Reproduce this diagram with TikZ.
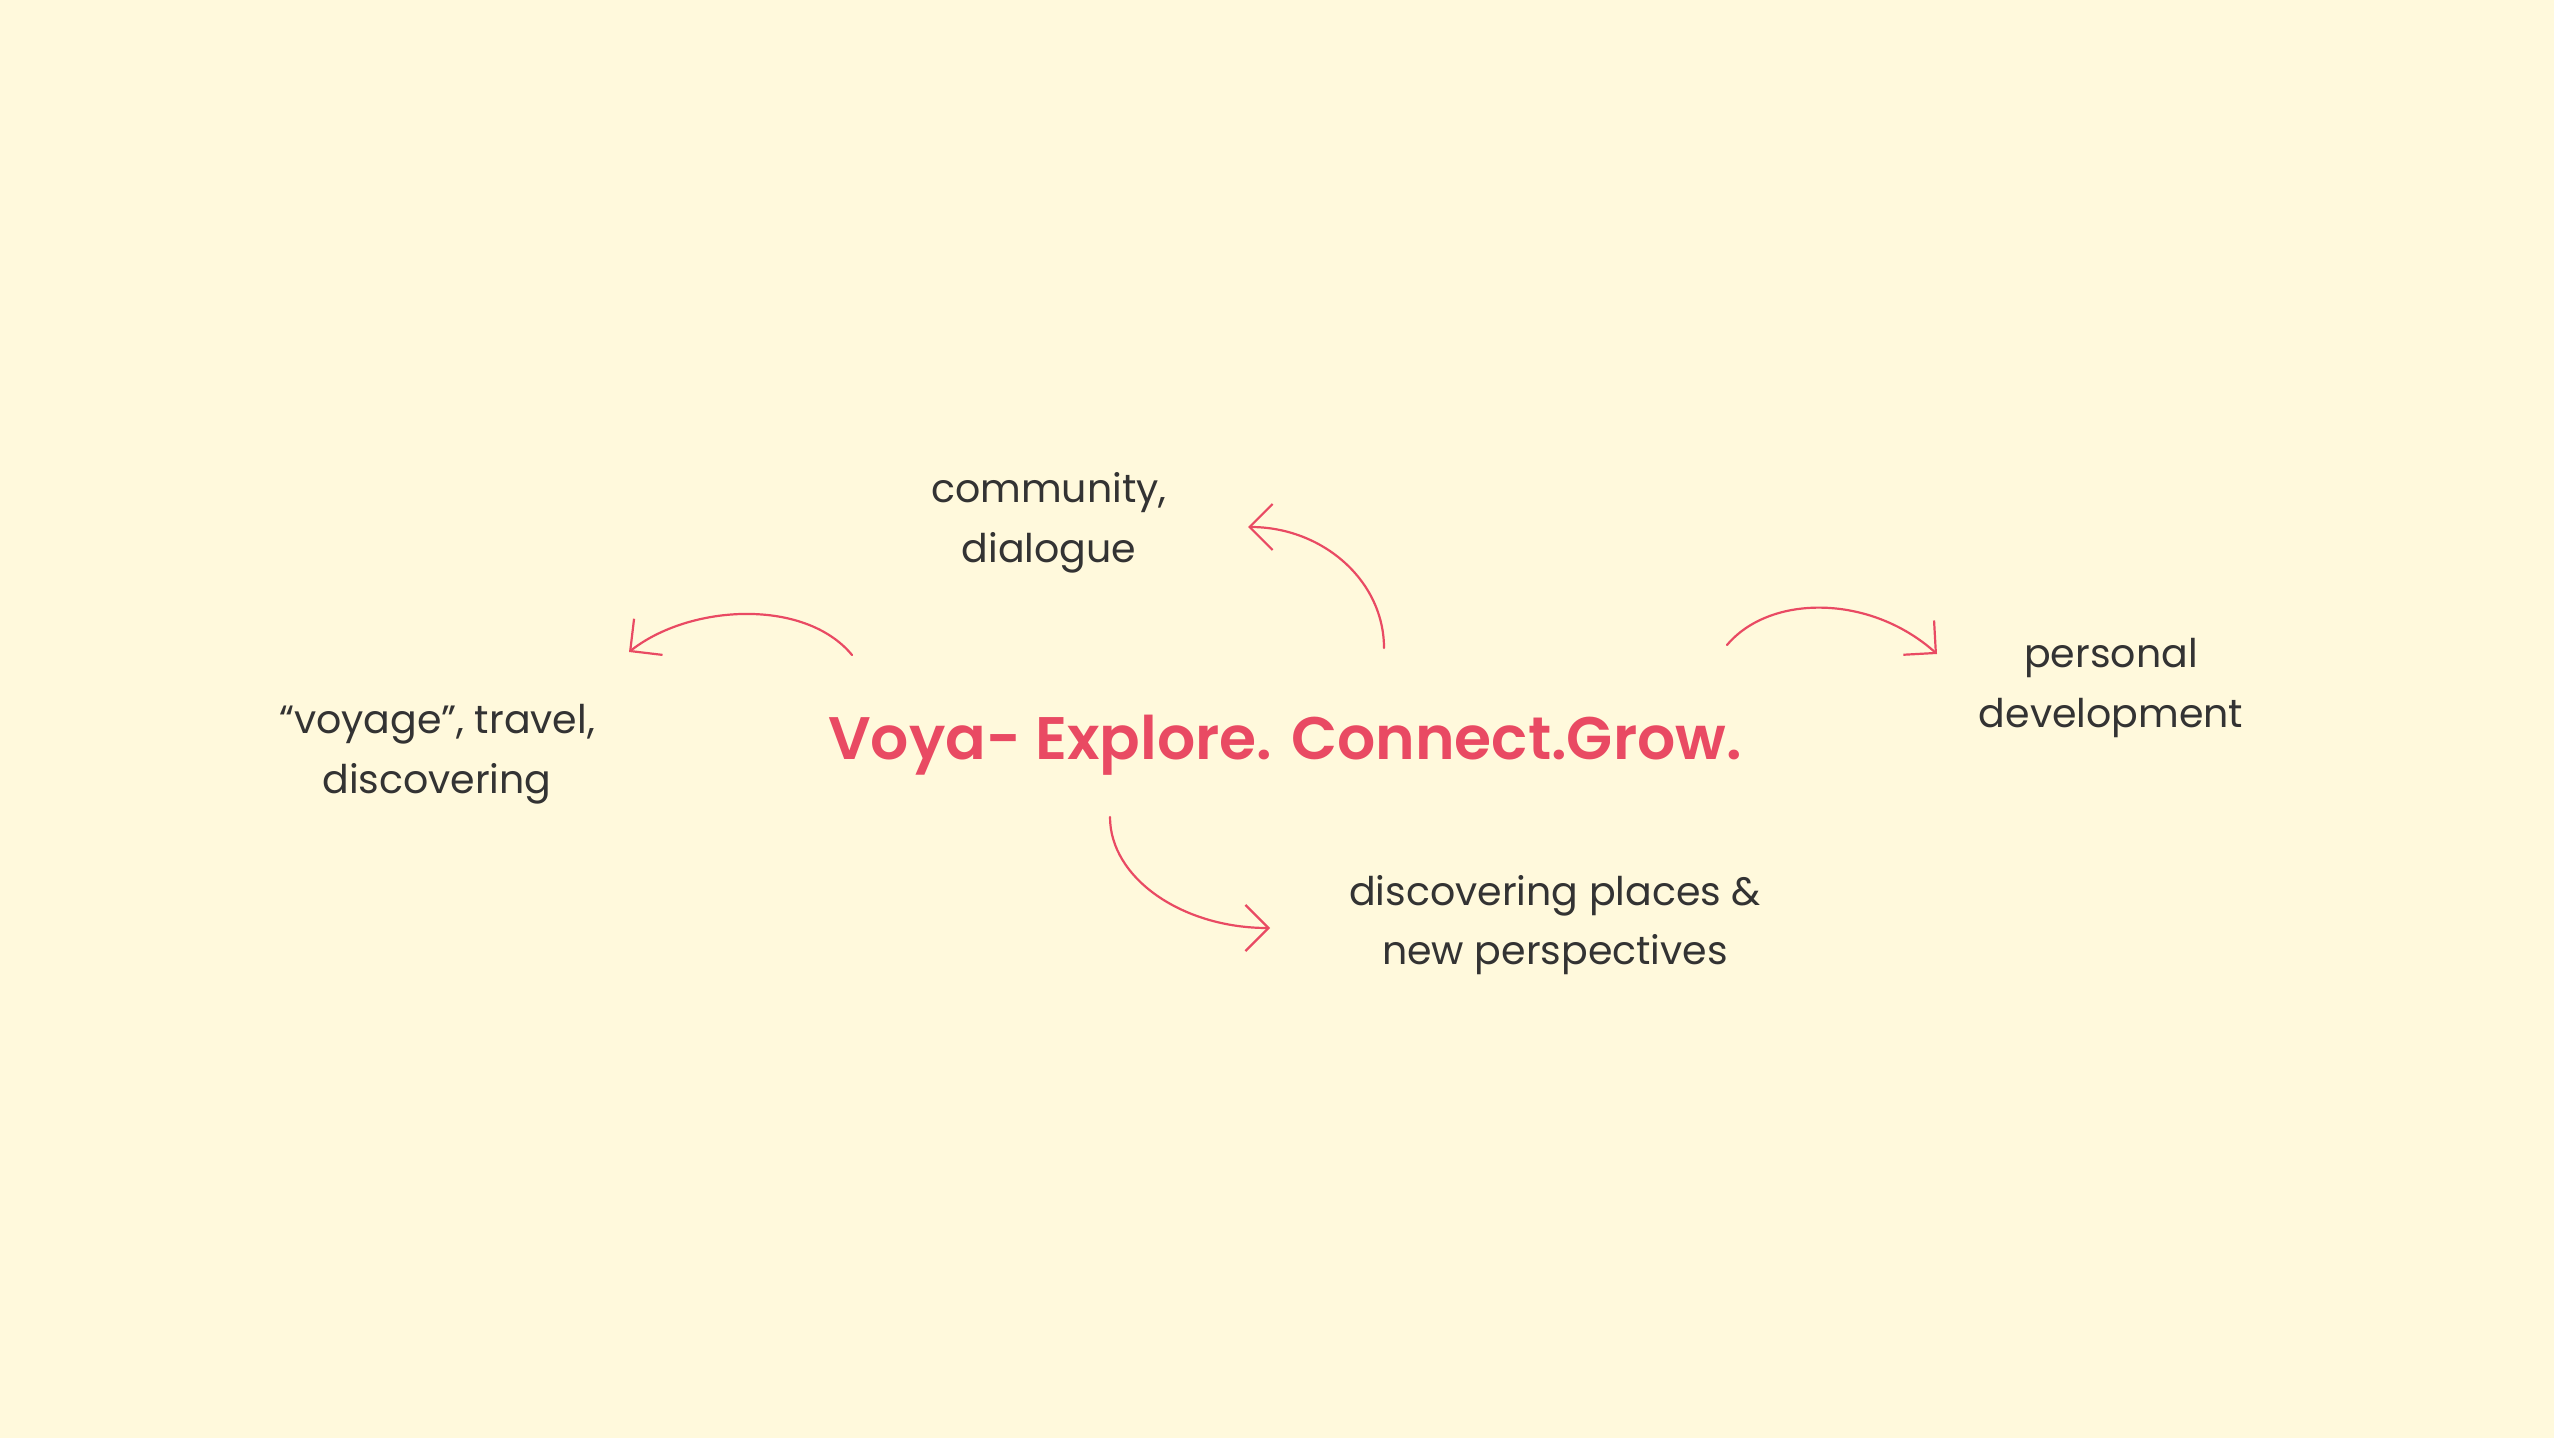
\documentclass[tikz,border=0pt]{standalone}
\usepackage{fontspec}
\setmainfont{Poppins}
\usetikzlibrary{arrows.meta}
\definecolor{bgcol}{HTML}{FFF9DC}
\definecolor{voyared}{HTML}{E94A63}
\definecolor{inkcol}{HTML}{333333}
\IfFontExistsTF{Poppins SemiBold}{\newfontfamily\titlefont{Poppins SemiBold}}{\newcommand\titlefont{\bfseries}}
\begin{document}
\begin{tikzpicture}[x=1pt,y=-1pt,
  lbl/.style={text=inkcol, font=\fontsize{39.5}{48}\selectfont, anchor=base, inner sep=0pt},
  ttl/.style={text=voyared, font=\titlefont\fontsize{60}{72}\selectfont, anchor=base, inner sep=0pt},
  arr/.style={draw=voyared, line width=2.2pt, line cap=round,
    -{Straight Barb[length=23pt,width=46pt,line width=2.2pt]}}]
\fill[bgcol] (0,0) rectangle (2554,1438);
\useasboundingbox (0,0) rectangle (2554,1438);

\node[ttl] (title) at (1285,759) {Voya- Explore. Connect.Grow.};

\node[lbl] (comm1) at (1049,502) {community,};
\node[lbl] (comm2) at (1049,562) {dialogue};

\node[lbl] (voy1) at (437,733) {“voyage”, travel,};
\node[lbl] (voy2) at (437,793) {discovering};

\node[lbl] (pers1) at (2111,667) {personal};
\node[lbl] (pers2) at (2111,727) {development};

\node[lbl] (disc1) at (1555,905) {discovering places \&};
\node[lbl] (disc2) at (1555,964) {new perspectives};

\coordinate (la0) at (852,655);
\coordinate (la1) at (629,652);
\coordinate (ta0) at (1384,648);
\coordinate (ta1) at (1248,527);
\coordinate (ra0) at (1727,645);
\coordinate (ra1) at (1937,654);
\coordinate (ba0) at (1110,817);
\coordinate (ba1) at (1270,928);

\draw[arr] (la0) .. controls (805,598) and (690,604) .. (la1);
\draw[arr] (ta0) .. controls (1384,581) and (1323,527) .. (ta1);
\draw[arr] (ra0) .. controls (1770,594) and (1870,594) .. (ra1);
\draw[arr] (ba0) .. controls (1110,878) and (1182,928) .. (ba1);
\end{tikzpicture}
\end{document}
